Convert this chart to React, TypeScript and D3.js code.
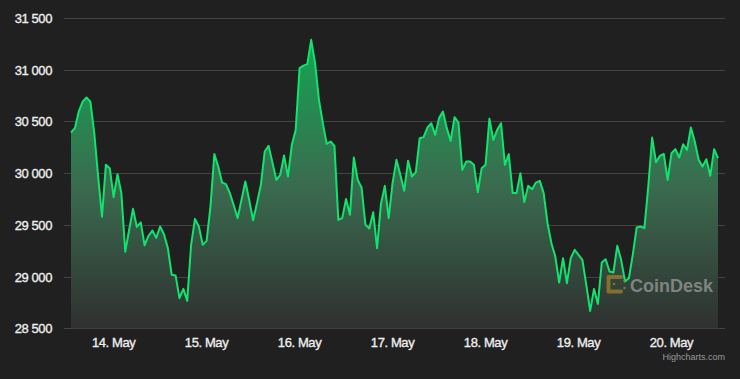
import React from "react";
import * as d3 from "d3";

// Hourly BTC/USD prices, starting 13 May 2022 13:00 UTC
const START_UTC = Date.UTC(2022, 4, 13, 13);
const prices: number[] = [
  30393, 30435, 30596, 30692, 30731, 30692, 30390, 29970, 29580, 30080, 30048,
  29768, 29990, 29807, 29240, 29450, 29655, 29480, 29524, 29303, 29394, 29445,
  29374, 29484, 29410, 29275, 29017, 29010, 28791, 28881, 28765, 29307, 29558,
  29484, 29307, 29345, 29677, 30184, 30064, 29909, 29894, 29807, 29690, 29565,
  29740, 29919, 29740, 29545, 29710, 29887, 30209, 30264, 30100, 29935, 29984,
  30170, 29967, 30274, 30419, 31015, 31040, 31054, 31289, 31064, 30709, 30483,
  30283, 30306, 30264, 29548, 29565, 29751, 29597, 30151, 29935, 29861, 29500,
  29464, 29623, 29275, 29703, 29877, 29565, 29903, 30129, 29984, 29829, 30119,
  29967, 30010, 30338, 30348, 30441, 30483, 30370, 30532, 30596, 30435, 30312,
  30541, 30490, 30032, 30112, 30112, 30080, 29816, 30048, 30080, 30527, 30322,
  30419, 30483, 30080, 30184, 29807, 29807, 30000, 29720, 29877, 29845, 29909,
  29925, 29807, 29516, 29323, 29194, 28942, 29178, 28936, 29178, 29258, 29210,
  29162, 28920, 28668, 28881, 28736, 29136, 29168, 29049, 29039, 29297, 29162,
  28952, 28985, 29210, 29474, 29484, 29468, 29870, 30344, 30106, 30167, 30187,
  29935, 30193, 30232, 30151, 30280, 30225, 30441, 30306, 30129, 30064, 30135,
  29974, 30232, 30145,
];
const yTicks: number[] = [28500, 29000, 29500, 30000, 30500, 31000, 31500];
const xTickDays: number[] = [14, 15, 16, 17, 18, 19, 20];

const W = 740;
const H = 379;
const FONT = "'Liberation Sans', Arial, Helvetica, sans-serif";

export default function App() {
  const data = prices.map((v, i) => ({
    t: d3.utcHour.offset(new Date(START_UTC), i),
    v,
  }));
  const x = d3
    .scaleUtc()
    .domain([data[0].t, data[data.length - 1].t])
    .range([71, 718]);
  const y = d3.scaleLinear().domain([28500, 31500]).range([328.3, 18]);

  const line = d3
    .line<{ t: Date; v: number }>()
    .x((d) => x(d.t))
    .y((d) => y(d.v));
  const area = d3
    .area<{ t: Date; v: number }>()
    .x((d) => x(d.t))
    .y0(y(28500))
    .y1((d) => y(d.v));

  const fmtY = (v: number) => d3.format(",")(v).replace(/,/g, " ");
  const fmtX = d3.utcFormat("%-d. %B");
  const maxV = d3.max(prices) as number;

  const labelProps = {
    fill: "#eeeeee",
    stroke: "#eeeeee",
    strokeWidth: 0.35,
    fontFamily: FONT,
    fontSize: 13,
    letterSpacing: -0.4,
  };

  return (
    <svg
      width={W}
      height={H}
      style={{ position: "absolute", left: 0, top: 0, display: "block" }}
    >
      <defs>
        <linearGradient
          id="areaGrad"
          gradientUnits="userSpaceOnUse"
          x1={0}
          x2={0}
          y1={y(maxV)}
          y2={y(28500)}
        >
          <stop offset="0%" stopColor="#14a552" />
          <stop offset="50%" stopColor="#3a6c4f" />
          <stop offset="100%" stopColor="#2f3030" />
        </linearGradient>
      </defs>
      <rect x={0} y={0} width={W} height={H} fill="#202020" />
      {yTicks.map((t) => (
        <g key={t}>
          <line
            x1={64}
            x2={725}
            y1={Math.round(y(t)) + 0.5}
            y2={Math.round(y(t)) + 0.5}
            stroke="#444444"
            strokeWidth={1}
          />
          <text x={52} y={y(t) + 5} textAnchor="end" {...labelProps}>
            {fmtY(t)}
          </text>
        </g>
      ))}
      <path d={area(data) || ""} fill="url(#areaGrad)" />
      <path
        d={line(data) || ""}
        fill="none"
        stroke="#10e46e"
        strokeWidth={2}
        strokeLinejoin="round"
      />
      {xTickDays.map((d) => {
        const dt = new Date(Date.UTC(2022, 4, d));
        return (
          <text key={d} x={x(dt)} y={347} textAnchor="middle" {...labelProps}>
            {fmtX(dt)}
          </text>
        );
      })}
      {/* CoinDesk watermark */}
      <g opacity={0.75}>
        <path
          d="M621,277 H608.5 V291.5 H621"
          fill="none"
          stroke="#a07f2c"
          strokeWidth={4}
          strokeLinecap="round"
          strokeLinejoin="round"
          strokeDasharray="3 1.2"
        />
        <circle cx={614} cy={284} r={1.3} fill="#a07f2c" />
        <circle cx={624.5} cy={281} r={1.3} fill="#a07f2c" />
        <circle cx={624.5} cy={288} r={1.3} fill="#a07f2c" />
        <text
          x={630}
          y={292}
          fill="#9a9a9a"
          fontFamily={FONT}
          fontWeight="bold"
          fontSize={18}
        >
          CoinDesk
        </text>
      </g>
      <text
        x={725}
        y={360}
        textAnchor="end"
        fill="#9a9a9a"
        fontFamily={FONT}
        fontSize={9}
      >
        Highcharts.com
      </text>
    </svg>
  );
}
